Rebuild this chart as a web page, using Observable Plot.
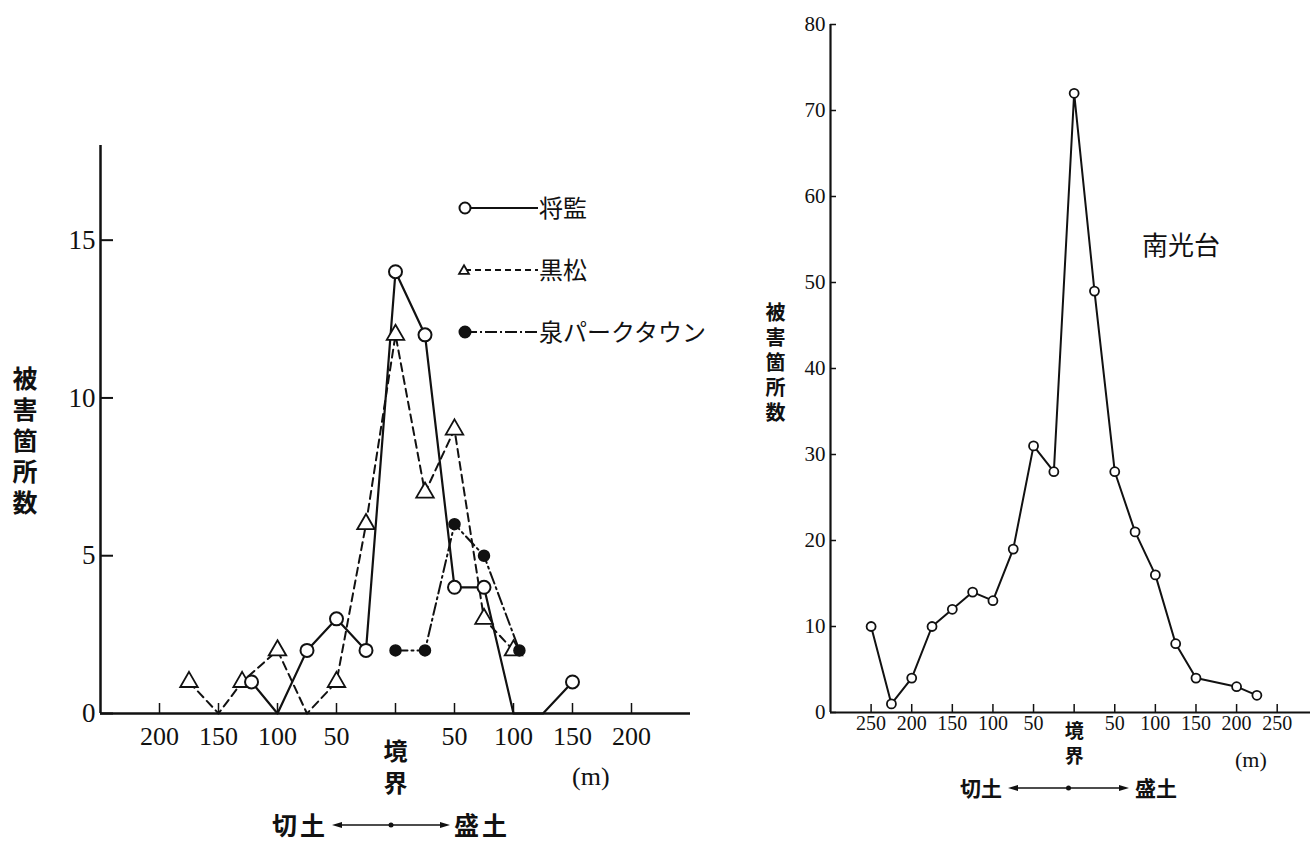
<!DOCTYPE html>
<html><head><meta charset="utf-8">
<script src="https://cdn.jsdelivr.net/npm/d3@7"></script>
<script src="https://cdn.jsdelivr.net/npm/@observablehq/plot@0.6"></script>
<style>
body{margin:0;background:#fff;}
#wrap{position:relative;width:1310px;height:843px;overflow:hidden;background:#fff;color:#111;}
.pane{position:absolute;top:0;}
.abs{position:absolute;white-space:nowrap;line-height:1;}
.ylab{writing-mode:vertical-rl;font-family:"Noto Sans CJK JP";font-weight:bold;}
.cjk{font-family:"Noto Sans CJK JP";}
.serif{font-family:"Liberation Serif",serif;}
</style>
</head><body>
<div id="wrap">
  <div id="left" class="pane" style="left:0"></div>
  <div id="right" class="pane" style="left:760px"></div>
</div>
<script>
// ---- data (left chart) ----
const shogenX = [-122, -100, -75, -50, -25, 0, 25, 50, 75, 100, 125, 150];
const shogenY = [1, 0, 2, 3, 2, 14, 12, 4, 4, 0, 0, 1];
const kuromatsuX = [-175, -150, -130, -100, -75, -50, -25, 0, 25, 50, 75, 100];
const kuromatsuY = [1, 0, 1, 2, 0, 1, 6, 12, 7, 9, 3, 2];
const izumiX = [0, 25, 50, 75, 105];
const izumiY = [2, 2, 6, 5, 2];
// ---- data (right chart) ----
const nankodaiX = [-250, -225, -200, -175, -150, -125, -100, -75, -50, -25, 0, 25, 50, 75, 100, 125, 150, 200, 225];
const nankodaiY = [10, 1, 4, 10, 12, 14, 13, 19, 31, 28, 72, 49, 28, 21, 16, 8, 4, 3, 2];
// ---- ticks / labels ----
const leftXTicks = [-200, -150, -100, -50, 0, 50, 100, 150, 200];
const leftYTicks = [0, 5, 10, 15];
const rightXTicks = [-250, -200, -150, -100, -50, 0, 50, 100, 150, 200, 250];
const rightYTicks = [0, 10, 20, 30, 40, 50, 60, 70, 80];
const seriesNames = ["将監", "黒松", "泉パークタウン"];
const boundaryLabel = "境\n界";
const yTitle = "被害箇所数";
const rightTitle = "南光台";
const unitLabel = "(m)";
const cutLabel = "切土";
const fillLabel = "盛土";

const toRows = (xs, ys) => xs.map((x, i) => ({x, y: ys[i]}));
const shogen = toRows(shogenX, shogenY);
const kuromatsu = toRows(kuromatsuX, kuromatsuY);
const izumi = toRows(izumiX, izumiY);
const nankodai = toRows(nankodaiX, nankodaiY);
const nz = d => d.y > 0;
const SERIF = "Liberation Serif, serif";
const CJK = "Noto Sans CJK JP, sans-serif";
const absFmt = d => String(Math.abs(d));
const isZero = d => d === 0;
const notZero = d => d !== 0;

const leftPlot = Plot.plot({
  width: 720, height: 843,
  marginLeft: 100, marginRight: 30, marginTop: 145, marginBottom: 130,
  x: {domain: [-250, 250]},
  y: {domain: [0, 18]},
  style: {background: "transparent", color: "#111"},
  marks: [
    Plot.ruleY([0], {strokeWidth: 2.5, stroke: "#111"}),
    Plot.ruleX([-250], {strokeWidth: 2.5, stroke: "#111"}),
    Plot.axisY(leftYTicks, {tickSize: -13, tickPadding: 18, fontSize: 27, fontFamily: SERIF, strokeWidth: 2, label: null}),
    Plot.axisX(leftXTicks.filter(notZero), {tickSize: -10, tickPadding: 23, fontSize: 26, fontFamily: SERIF, strokeWidth: 1.5, tickFormat: absFmt, label: null}),
    Plot.axisX(leftXTicks.filter(isZero), {tickSize: -10, tickPadding: 34, fontSize: 24, fontWeight: "bold", fontFamily: CJK, lineHeight: 1.32, strokeWidth: 1.5, tickFormat: () => boundaryLabel, label: null}),
    Plot.line(kuromatsu, {x: "x", y: "y", stroke: "#111", strokeWidth: 2, strokeDasharray: "8,5"}),
    Plot.line(izumi, {x: "x", y: "y", stroke: "#111", strokeWidth: 2, strokeDasharray: "12,4,2,4"}),
    Plot.line(shogen, {x: "x", y: "y", stroke: "#111", strokeWidth: 2.2}),
    Plot.dot(kuromatsu.filter(nz), {x: "x", y: "y", symbol: "triangle", r: 6.5, fill: "white", stroke: "#111", strokeWidth: 1.8}),
    Plot.dot(izumi.filter(nz), {x: "x", y: "y", r: 5.5, fill: "#111", stroke: "#111"}),
    Plot.dot(shogen.filter(nz), {x: "x", y: "y", r: 6.5, fill: "white", stroke: "#111", strokeWidth: 2})
  ]
});
document.getElementById("left").appendChild(leftPlot);

const rightPlot = Plot.plot({
  width: 550, height: 843,
  marginLeft: 70, marginRight: 0, marginTop: 24, marginBottom: 131,
  x: {domain: [-300, 291]},
  y: {domain: [0, 80]},
  style: {background: "transparent", color: "#111"},
  marks: [
    Plot.ruleY([0], {strokeWidth: 2.2, stroke: "#111"}),
    Plot.ruleX([-300], {strokeWidth: 2.2, stroke: "#111"}),
    Plot.axisY(rightYTicks, {tickSize: -6, tickPadding: 11, fontSize: 21, fontFamily: SERIF, strokeWidth: 1.5, label: null}),
    Plot.axisX(rightXTicks.filter(notZero), {tickSize: -8, tickPadding: 11, fontSize: 20, fontFamily: SERIF, strokeWidth: 1.5, tickFormat: absFmt, label: null}),
    Plot.axisX(rightXTicks.filter(isZero), {tickSize: -8, tickPadding: 16, fontSize: 19, fontWeight: "bold", fontFamily: CJK, lineHeight: 1.32, strokeWidth: 1.5, tickFormat: () => boundaryLabel, label: null}),
    Plot.line(nankodai, {x: "x", y: "y", stroke: "#111", strokeWidth: 2}),
    Plot.dot(nankodai, {x: "x", y: "y", r: 4.5, fill: "white", stroke: "#111", strokeWidth: 1.8})
  ]
});
document.getElementById("right").appendChild(rightPlot);

// ---- HTML annotations ----
const wrap = document.getElementById("wrap");
function addDiv(html, style, cls) {
  const d = document.createElement("div");
  d.className = "abs " + (cls || "");
  d.innerHTML = html;
  Object.assign(d.style, style);
  wrap.appendChild(d);
  return d;
}
// y titles
addDiv(yTitle, {left: "12px", top: "366px", fontSize: "25px", letterSpacing: "6px"}, "ylab");
addDiv(yTitle, {left: "765px", top: "302px", fontSize: "20px", letterSpacing: "5px"}, "ylab");
// right title
addDiv(rightTitle, {left: "1142px", top: "231px", fontSize: "26px"}, "cjk");
// units
addDiv(unitLabel, {left: "572px", top: "764px", fontSize: "26px"}, "serif");
addDiv(unitLabel, {left: "1235px", top: "749px", fontSize: "22px"}, "serif");

// cut / fill arrows
function arrowRow(left, top, fs, ls, arrowW, gap) {
  const d = addDiv("", {left: left + "px", top: top + "px", fontSize: fs + "px", fontWeight: "bold", display: "flex", alignItems: "center"}, "cjk");
  d.innerHTML = `<span style="letter-spacing:${ls}px">${cutLabel}</span>
  <svg width="${arrowW}" height="12" style="margin:0 ${gap}px">
    <line x1="6" y1="6" x2="${arrowW - 6}" y2="6" stroke="#111" stroke-width="1.5"/>
    <path d="M0,6 L10,3 L10,9 Z" fill="#111"/>
    <path d="M${arrowW},6 L${arrowW - 10},3 L${arrowW - 10},9 Z" fill="#111"/>
    <circle cx="${arrowW / 2}" cy="6" r="2.5" fill="#111"/>
  </svg>
  <span style="letter-spacing:${ls}px">${fillLabel}</span>`;
}
arrowRow(272, 812, 25, 3, 118, 4);
arrowRow(960, 777, 21, 0, 121, 6);

// legend
const legendSvg = d3.select(wrap).append("svg")
  .attr("width", 300).attr("height", 170)
  .style("position", "absolute").style("left", "450px").style("top", "185px");
const legendStyles = [
  {dash: null, sym: "circle", fill: "white"},
  {dash: "6,4", sym: "triangle", fill: "white"},
  {dash: "12,3,2,3", sym: "circle", fill: "#111"}
];
seriesNames.forEach((name, i) => {
  const cy = 23 + i * 62;
  const g = legendSvg.append("g").attr("transform", `translate(0,${cy})`);
  g.append("line").attr("x1", 15).attr("x2", 88).attr("y1", 0).attr("y2", 0)
    .attr("stroke", "#111").attr("stroke-width", 1.8)
    .attr("stroke-dasharray", legendStyles[i].dash);
  if (legendStyles[i].sym === "triangle") {
    g.append("path").attr("d", d3.symbol(d3.symbolTriangle2, 70)()).attr("transform", "translate(14,1)")
      .attr("fill", "white").attr("stroke", "#111").attr("stroke-width", 1.8);
  } else {
    g.append("circle").attr("cx", 15).attr("cy", 0).attr("r", 5.5)
      .attr("fill", legendStyles[i].fill).attr("stroke", "#111").attr("stroke-width", 2);
  }
  g.append("text").attr("x", 89).attr("y", 0).attr("dy", "0.36em")
    .attr("font-family", CJK).attr("font-size", 24).attr("fill", "#111").text(name);
});
</script>
</body></html>
